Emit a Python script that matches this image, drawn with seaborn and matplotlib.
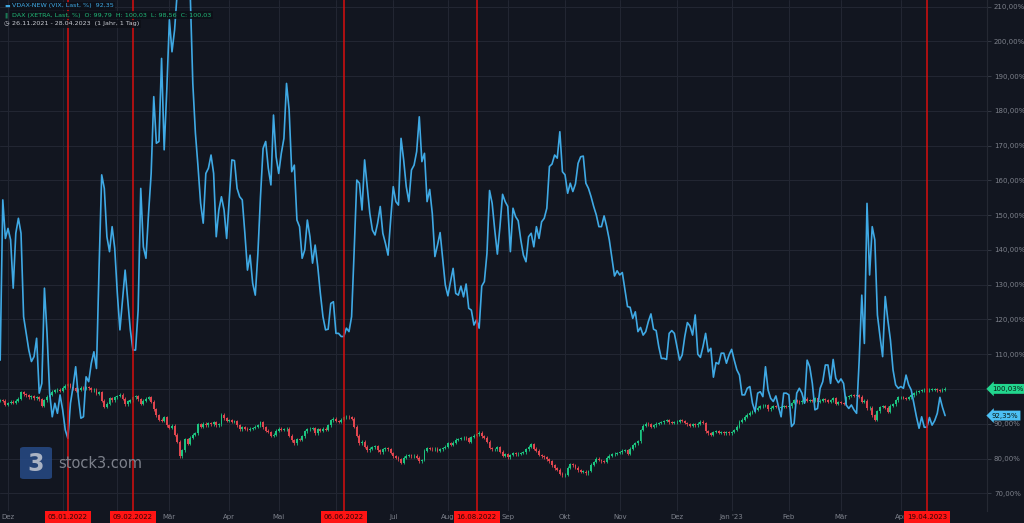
import numpy as np
import pandas as pd
import seaborn as sns
import matplotlib.pyplot as plt
import matplotlib.transforms as mtrans
from matplotlib.patches import FancyBboxPatch
from matplotlib.ticker import FuncFormatter

# Xetra trading days, 26.11.2021 - 28.04.2023
holidays = ["2021-12-24", "2021-12-31", "2022-04-15", "2022-04-18",
            "2022-12-26", "2023-04-07", "2023-04-10"]
days = pd.bdate_range("2021-11-26", "2023-04-28", freq="C", holidays=holidays)

# VDAX-NEW, last, % (one value per trading day)
vdax = [
    108.3, 154.4, 143.3, 146.2, 142.9, 129.0, 144.8, 149.1, 144.8, 120.8,
    116.0, 111.2, 107.9, 109.3, 114.6, 98.8, 101.6, 129.0, 116.0, 98.8,
    92.0, 95.9, 93.0, 98.3, 94.0, 88.2, 85.8, 95.9, 100.7, 106.4,
    97.8, 91.6, 92.0, 103.5, 102.1, 107.4, 110.7, 105.9, 135.2, 161.6,
    157.7, 143.8, 139.5, 146.7, 140.5, 127.5, 117.0, 125.6, 134.2, 125.6,
    117.0, 111.2, 111.2, 122.7, 157.7, 140.9, 137.6, 150.5, 162.0, 184.1,
    170.7, 171.2, 195.1, 168.8, 186.0, 206.2, 197.0, 203.3, 214.0, 228.0,
    242.0, 236.0, 224.0, 214.0, 187.9, 173.6, 164.0, 153.4, 147.7, 162.0,
    163.5, 167.3, 162.0, 143.8, 151.5, 155.3, 151.5, 143.3, 154.4, 165.9,
    165.7, 157.7, 155.3, 154.4, 144.8, 134.2, 138.5, 130.4, 127.0,
    139.0, 155.3, 169.2, 171.2, 163.5, 158.7, 178.8, 166.8, 162.0, 167.8,
    172.1, 187.9, 180.3, 162.5, 164.4, 148.6, 146.7, 137.6, 140.0, 148.6,
    143.8, 136.2, 141.4, 135.2, 127.5, 120.8, 117.0, 117.2, 124.6, 125.1,
    116.0, 116.0, 115.1, 115.1, 117.5, 116.5, 120.8, 140.0, 160.1, 159.2,
    151.5, 165.9, 158.2, 150.5, 145.7, 144.3, 147.7, 152.5, 144.8, 141.9,
    138.5, 148.6, 158.2, 153.9, 152.9, 172.1, 165.9, 158.2, 153.9, 163.0,
    164.4, 168.3, 178.3, 165.4, 167.8, 153.9, 157.4, 150.5, 138.1, 141.4,
    145.0, 137.6, 129.9, 126.8, 130.9, 134.7, 127.5, 127.0, 129.6, 126.5,
    130.2, 123.2, 122.7, 118.4, 119.9, 117.5, 129.6, 130.9, 139.0, 157.1,
    153.4, 145.7, 138.8, 146.7, 156.0, 153.9, 152.5,
    139.5, 152.0, 149.6, 148.4, 142.9, 138.5, 136.6, 143.8, 144.8, 140.9,
    146.7, 143.3, 148.1, 149.1, 152.0, 164.0, 164.7, 167.3, 166.4, 174.0,
    162.5, 161.6, 156.3, 159.2, 156.8, 159.0, 164.9, 166.8, 167.0, 159.2,
    157.7, 155.3, 152.5, 150.1, 146.7, 146.7, 149.8, 146.7, 142.9, 137.6,
    132.5, 134.0, 132.8, 133.5, 128.5, 123.7, 123.5, 120.3, 122.2, 116.5,
    117.7, 115.5, 116.5, 119.4, 121.6, 117.2, 116.8, 112.2, 108.8, 108.8,
    108.5, 116.0, 116.8, 116.0, 112.2, 108.3, 109.8, 115.1, 119.1, 118.1,
    115.5, 121.3, 110.0, 109.1, 112.2, 116.0, 110.7, 111.7, 103.4, 107.6,
    107.2, 110.3, 110.3, 107.4, 109.8, 111.4, 108.3, 105.5, 104.0, 98.3,
    98.3, 100.2, 100.7, 95.9, 93.5, 98.8,
    99.2, 97.8, 106.4, 99.7, 97.3, 96.4, 98.0, 94.9, 92.0, 98.8,
    98.8, 98.3, 89.2, 90.1, 98.8, 100.2, 98.8, 95.9, 108.3, 106.4,
    101.6, 94.0, 94.4, 100.2, 102.1, 106.9, 106.9, 101.6, 108.5, 103.1,
    101.8, 102.9, 101.6, 95.4, 94.4, 95.4, 94.0, 93.0, 108.3, 127.0,
    113.1, 153.4, 132.8, 146.7, 142.9, 121.3, 115.1, 109.3, 126.6, 119.9,
    114.1, 105.5, 101.2, 100.2, 100.7, 100.2, 104.0, 101.2, 99.7, 95.9,
    92.0, 88.7, 92.0, 89.0, 89.0, 91.8, 89.6, 90.9, 93.0, 97.6,
    94.7, 92.35,
]

# DAX (Xetra), daily close in %
dax_close = [
    96.8, 96.6, 95.4, 96.0, 96.4, 96.0, 96.6, 97.2, 99.0, 98.5,
    98.2, 97.6, 98.0, 97.3, 97.6, 97.0, 95.2, 96.8, 97.8, 98.4,
    99.2, 99.6, 99.8, 99.4, 100.4, 101.0, 101.4, 100.6, 100.2, 99.4,
    99.8, 100.4, 100.0, 100.6, 100.2, 99.6, 99.8, 98.6, 99.0, 96.6,
    94.8, 95.8, 97.4, 96.8, 97.6, 98.0, 98.4, 97.2, 95.6, 96.4,
    96.8, 97.6, 98.0, 97.0, 95.8, 96.6, 97.2, 97.6, 96.4, 94.2,
    92.4, 91.2, 90.8, 91.8, 89.6, 88.8, 89.4, 86.8, 84.8, 80.6,
    82.4, 85.6, 84.2, 86.0, 86.8, 87.2, 89.8, 89.2, 90.0, 89.6,
    90.2, 89.8, 90.4, 89.6, 89.8, 92.6, 91.6, 90.8, 91.0, 90.6,
    90.8, 89.6, 88.4, 89.0, 88.6, 88.2, 88.6, 88.8, 89.2, 89.6,
    90.4, 89.0, 88.0, 87.6, 86.6, 86.8, 88.0, 88.6, 88.2, 88.4,
    88.6, 86.6, 85.2, 84.4, 85.6, 85.4, 86.4, 87.8, 88.4, 88.6,
    88.8, 87.2, 88.4, 88.0, 88.6, 88.2, 89.6, 91.0, 91.4, 90.8,
    90.6, 91.2, 91.8, 92.0, 91.8, 91.4, 89.2, 86.6, 84.4, 84.8,
    83.4, 82.4, 82.8, 83.2, 83.6, 82.4, 81.8, 82.6, 83.0, 82.6,
    81.6, 80.6, 80.2, 79.8, 78.8, 80.2, 80.8, 81.0, 80.6, 80.8,
    80.2, 79.2, 79.6, 82.2, 83.0, 82.8, 82.6, 82.8, 82.2, 82.6,
    83.0, 83.4, 84.4, 84.0, 84.6, 85.4, 85.6, 85.8, 86.0, 85.8,
    84.8, 86.2, 86.6, 87.0, 87.4, 86.4, 86.0, 84.8, 83.0, 82.6,
    82.6, 83.2, 82.0, 80.8, 81.2, 80.4, 81.0, 81.6, 81.2, 81.4,
    81.6, 81.8, 82.6, 83.4, 84.2, 82.8, 82.2, 81.0, 80.6, 80.4,
    79.8, 79.2, 78.0, 77.2, 76.8, 75.6, 75.2, 75.4, 77.4, 78.4,
    78.0, 77.4, 76.6, 76.2, 76.2, 75.8, 76.4, 78.2, 79.0, 80.0,
    79.6, 79.2, 79.0, 80.2, 80.8, 81.2, 81.4, 81.6, 81.8, 82.2,
    82.4, 81.4, 82.8, 83.8, 84.4, 85.0, 88.2, 89.4, 90.0, 89.8,
    89.2, 89.6, 90.0, 90.2, 90.4, 90.8, 91.0, 90.4, 90.2, 90.4,
    90.6, 91.0, 90.8, 90.2, 89.8, 89.4, 89.8, 89.6, 90.0, 90.6,
    90.2, 87.8, 87.2, 86.8, 87.6, 87.8, 87.4, 87.6, 87.2, 87.6,
    87.2, 87.6, 88.2, 89.2, 90.6, 91.2, 92.0, 92.6, 93.2, 93.6,
    94.0, 94.6, 95.0, 95.2, 95.4, 94.2, 94.6, 95.0, 94.8, 94.6,
    94.8, 95.0, 94.8, 95.0, 96.0, 96.8, 96.4, 96.2, 96.6, 97.2,
    96.6, 96.8, 96.6, 97.4, 96.4, 96.6, 97.0, 96.8, 96.4, 96.8,
    97.4, 95.8, 96.2, 96.0, 95.8, 97.6, 98.0, 98.2, 98.0, 98.2,
    97.8, 96.4, 96.6, 94.4, 94.6, 92.4, 91.2, 93.6, 94.8, 95.0,
    94.6, 93.4, 95.2, 95.6, 96.8, 97.6, 97.6, 97.4, 97.2, 97.6,
    98.2, 98.8, 99.2, 99.4, 99.6, 99.8, 99.6, 99.8, 99.8, 99.9,
    99.6, 99.4, 99.79, 100.03,
]
dax_first_open = 96.6
dax_low_last = 98.56

marker_dates = ["2022-01-05", "2022-02-09", "2022-06-06", "2022-08-16", "2023-04-19"]
month_names = {1: "Jan", 2: "Feb", 3: "Mär", 4: "Apr", 5: "Mai", 6: "Jun",
               7: "Jul", 8: "Aug", 9: "Sep", 10: "Okt", 11: "Nov", 12: "Dez"}

BG = "#121620"
GRID = "#232733"
BLUE = "#3fa9e4"
UP = "#1cc480"
DOWN = "#e0464f"
RED = "#d80f0f"
TXT = "#7d818b"

sns.set_theme(style="dark")
plt.rcParams["font.family"] = ["DejaVu Sans"]

n = min(len(days), len(vdax), len(dax_close))
days = days[:n]
x = np.arange(n)
close = np.array(dax_close[:n])
opn = np.r_[dax_first_open, close[:-1]]
up = close >= opn
cols = np.where(up, UP, DOWN)
top = np.maximum(opn, close)
bot = np.minimum(opn, close)

fig = plt.figure(figsize=(10.24, 5.23), dpi=100, facecolor=BG)
ax = fig.add_axes([0, 12 / 523, 987 / 1024, 511 / 523])
ax.set_facecolor(BG)

# candles
ax.vlines(x, bot - 0.4, top + 0.4, color=cols, lw=0.6, zorder=2)
ax.bar(x, np.maximum(top - bot, 0.2), bottom=bot, width=0.72, color=cols,
       linewidth=0, zorder=2)

# VDAX line
sns.lineplot(x=x, y=vdax[:n], ax=ax, color=BLUE, lw=1.2, zorder=3)

ax.set_xlim(-0.07, 379.1)
ax.set_ylim(64.9, 211.9)

# right price scale; the 100 % label sits under the DAX value tag
ax.set_yticks(np.arange(70, 211, 10))
ax.yaxis.tick_right()
ax.yaxis.set_major_formatter(FuncFormatter(
    lambda v, p: "" if abs(v - 100) < 0.01 else f"{v:.2f}%".replace(".", ",")))
ax.tick_params(axis="y", length=3, width=0.6, color="#3a3f4b", labelsize=5,
               labelcolor=TXT, pad=2, right=True, left=False)

# month gridlines; labels hidden where a marker box covers them
marker_idx = [days.get_loc(pd.Timestamp(d)) for d in marker_dates]
month_pos = [i for i in range(1, n) if days[i].month != days[i - 1].month]
month_lab = []
for i in month_pos:
    d = days[i]
    lab = f"Jan '{d.year % 100}" if d.month == 1 else month_names[d.month]
    if any(abs(i - m) < 8 for m in marker_idx):
        lab = ""
    month_lab.append(lab)
ax.set_xticks(month_pos)
ax.set_xticklabels(month_lab)
ax.tick_params(axis="x", length=0, labelsize=5, labelcolor=TXT, pad=2.5)

ax.grid(True, color=GRID, lw=0.7)
ax.set_axisbelow(True)
for s in ["left", "top", "bottom"]:
    ax.spines[s].set_visible(False)
ax.spines["right"].set_color("#252933")
ax.spines["right"].set_linewidth(0.8)
ax.set_xlabel("")
ax.set_ylabel("")

# event markers
tr = mtrans.blended_transform_factory(ax.transData, ax.transAxes)
for d, i in zip(marker_dates, marker_idx):
    ts = pd.Timestamp(d)
    ax.axvline(i, ymin=-0.012, ymax=1, color=RED, lw=1.1, zorder=5, clip_on=False)
    ax.text(i, -0.0125, ts.strftime("%d.%m.%Y"), transform=tr, ha="center", va="center",
            fontsize=5, color="#2a0505", zorder=10, clip_on=False,
            bbox=dict(boxstyle="square,pad=0.42", fc="#ff1414", ec="none"))

# last value tags
ty = mtrans.blended_transform_factory(ax.transAxes, ax.transData)
for val, fc in [(close[-1], "#22d68e"), (vdax[n - 1], "#4cc0f5")]:
    ax.annotate(f"{val:.2f}%".replace(".", ","), xy=(1.0, val), xycoords=ty,
                xytext=(3.5, 0), textcoords="offset points", ha="left", va="center",
                fontsize=5, color="#0b1a14", annotation_clip=False, zorder=11,
                bbox=dict(boxstyle="larrow,pad=0.28", fc=fc, ec="none"))

# legend block
fmt = lambda v: f"{v:.2f}".replace(".", ",")
leg = [
    ("▬", f"VDAX-NEW (VIX, Last, %)  {fmt(vdax[n - 1])}", BLUE, 6),
    ("‖", f"DAX (XETRA, Last, %)  O: {fmt(opn[-1])}  H: {fmt(close[-1])}  "
          f"L: {fmt(dax_low_last)}  C: {fmt(close[-1])}", "#21b877", 15),
    ("◷", f"{days[0].strftime('%d.%m.%Y')} - {days[-1].strftime('%d.%m.%Y')}  (1 Jahr, 1 Tag)",
     "#c9ccd3", 24),
]
for icon, txt, c, ypx in leg:
    fig.text(4 / 1024, 1 - ypx / 523, icon, fontsize=4.6, color=c, va="center", ha="left")
    fig.text(12 / 1024, 1 - ypx / 523, txt, fontsize=4.6, color=c, va="center", ha="left",
             bbox=dict(boxstyle="square,pad=0.25", fc="#0d1017", ec="none", alpha=0.85))

# watermark
fig.patches.append(FancyBboxPatch((20 / 1024, 1 - 479 / 523), 32 / 1024, 32 / 523,
                                  boxstyle="round,pad=0,rounding_size=0.004",
                                  transform=fig.transFigure, fc="#274a86", ec="none",
                                  alpha=0.85, zorder=20))
fig.text(36 / 1024, 1 - 464 / 523, "3", fontsize=17, fontweight="bold", color="#aab3c4",
         ha="center", va="center", zorder=21)
fig.text(58 / 1024, 1 - 464 / 523, "stock3.com", fontsize=10.5, color=TXT,
         ha="left", va="center", zorder=21)

fig.savefig("out.png", dpi=100, facecolor=BG)
